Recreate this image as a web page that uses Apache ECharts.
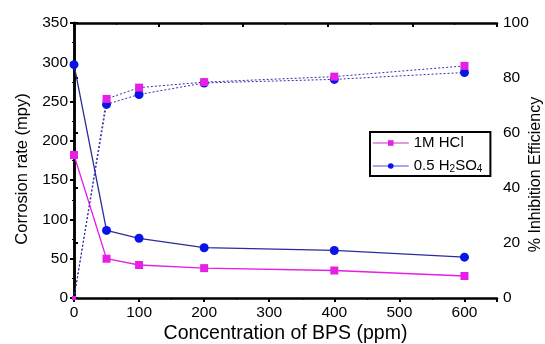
<!DOCTYPE html>
<html><head><meta charset="utf-8">
<script src="https://cdn.jsdelivr.net/npm/echarts@6/dist/echarts.min.js"></script>
<style>html,body{margin:0;padding:0;background:#fff}#c{width:545px;height:344px}</style>
</head><body><div id="c"></div>
<script>
const concentrations = [0, 50, 100, 200, 400, 600];
const hclRate = [182, 50, 42, 38, 35, 28];
const h2so4Rate = [297, 86, 76, 64, 60.5, 52];
const hclIE = [0, 72.4, 76.5, 78.5, 80.5, 84.4];
const h2so4IE = [0, 70.4, 74, 78.2, 79.5, 82];
const seriesNames = ['1M HCl', '0.5 H2SO4'];

const MAG = '#e61ee6', BLUE = '#0a14e6', NAVY = '#2b2b9c', LINEBLUE = '#3333a8';
const pair = (xs, ys) => xs.map((x, i) => [x, ys[i]]);
const font = 'Liberation Sans, Arial, sans-serif';
const TXT = '#000';

const chart = echarts.init(document.getElementById('c'));
chart.setOption({
  animation: false,
  backgroundColor: '#fff',
  grid: { left: 74, right: 48, top: 23, bottom: 46, outerBoundsMode: 'none', containLabel: false },
  legend: {
    data: [
      { name: seriesNames[0], lineStyle: { color: '#d77bd7', width: 1.5 } },
      { name: seriesNames[1], lineStyle: { color: '#8a8ae6', width: 1.5 } }
    ],
    left: 370, top: 132,
    orient: 'vertical',
    itemWidth: 36, itemHeight: 7, itemGap: 5,
    padding: [3, 8, 2, 2],
    borderColor: '#000', borderWidth: 2, backgroundColor: '#fff',
    textStyle: {
      fontFamily: font, fontSize: 15, color: TXT, lineHeight: 16,
      rich: { sub: { fontFamily: font, fontSize: 10, verticalAlign: 'bottom', padding: [8, 0, 0, 0], lineHeight: 16, color: TXT } }
    },
    formatter: n => n === '0.5 H2SO4' ? '0.5 H{sub|2}SO{sub|4}' : n
  },
  xAxis: [{
    type: 'value', min: 0, max: 650, interval: 100, position: 'bottom',
    name: 'Concentration of BPS (ppm)', nameLocation: 'middle', nameGap: 26, nameMoveOverlap: false,
    nameTextStyle: { fontFamily: font, fontSize: 19.5, color: TXT },
    axisLine: { lineStyle: { color: '#000', width: 2.5 } },
    axisTick: { show: true, length: 4, lineStyle: { width: 2 } },
    minorTick: { show: true, splitNumber: 2, length: 2 },
    axisLabel: { fontFamily: font, fontSize: 15.5, color: TXT, margin: 7, showMaxLabel: false },
    splitLine: { show: false }
  }, {
    type: 'value', min: 0, max: 650, interval: 130, position: 'top',
    axisLine: { onZero: false, lineStyle: { color: '#000', width: 2.5 } },
    axisTick: { show: true, inside: true, length: 4, lineStyle: { width: 2 } },
    minorTick: { show: true, splitNumber: 2, length: 2 },
    axisLabel: { show: false }, splitLine: { show: false }
  }],
  yAxis: [{
    type: 'value', min: 0, max: 350, interval: 50, position: 'left',
    name: 'Corrosion rate (mpy)', nameLocation: 'middle', nameGap: 43, nameRotate: 90, nameMoveOverlap: false,
    nameTextStyle: { fontFamily: font, fontSize: 16.5, color: TXT, padding: [0, 17, 0, 0] },
    axisLine: { show: true, lineStyle: { color: '#000', width: 2.5 } },
    axisTick: { show: true, length: 4, lineStyle: { width: 2 } },
    minorTick: { show: true, splitNumber: 2, length: 2 },
    axisLabel: { fontFamily: font, fontSize: 15.5, color: TXT, margin: 6 },
    splitLine: { show: false }
  }, {
    type: 'value', min: 0, max: 100, interval: 20, position: 'right',
    name: '% Inhibition Efficiency', nameLocation: 'middle', nameGap: 31, nameRotate: 90, nameMoveOverlap: false,
    nameTextStyle: { fontFamily: font, fontSize: 16, color: TXT, padding: [0, 28, 0, 0] },
    axisLine: { show: true, lineStyle: { color: '#000', width: 2.5 } },
    axisTick: { show: true, length: 4, lineStyle: { width: 2 } },
    minorTick: { show: true, splitNumber: 2, length: 2 },
    axisLabel: { fontFamily: font, fontSize: 15.5, color: TXT, margin: 6 },
    splitLine: { show: false }
  }],
  series: [
    { name: seriesNames[0], type: 'line', xAxisIndex: 0, yAxisIndex: 0, data: pair(concentrations, hclRate),
      symbol: 'rect', symbolSize: 8, itemStyle: { color: MAG }, lineStyle: { color: MAG, width: 1.3 } },
    { name: seriesNames[1], type: 'line', xAxisIndex: 0, yAxisIndex: 0, data: pair(concentrations, h2so4Rate),
      symbol: 'circle', symbolSize: 9, itemStyle: { color: BLUE }, lineStyle: { color: NAVY, width: 1.3 } },
    { name: 'IE HCl', type: 'line', xAxisIndex: 0, yAxisIndex: 1, data: pair(concentrations, hclIE),
      symbol: 'rect', symbolSize: (v, p) => p.dataIndex === 0 ? 4 : 8,
      itemStyle: { color: MAG }, lineStyle: { color: LINEBLUE, width: 1, type: [2, 2] }, z: 3 },
    { name: 'IE H2SO4', type: 'line', xAxisIndex: 0, yAxisIndex: 1, data: pair(concentrations, h2so4IE),
      symbol: 'circle', symbolSize: (v, p) => p.dataIndex === 0 ? 3 : 9,
      itemStyle: { color: BLUE }, lineStyle: { color: LINEBLUE, width: 1, type: [2, 2] }, z: 2 }
  ]
});
</script></body></html>
